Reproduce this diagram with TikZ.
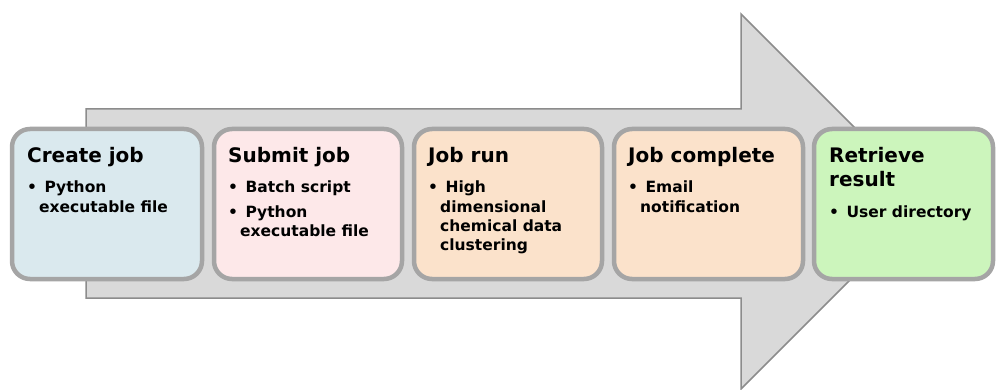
\documentclass[tikz,border=0pt]{standalone}
\usepackage{fontspec}
\setmainfont{DejaVu Sans}
\definecolor{arrowfill}{HTML}{D9D9D9}
\definecolor{arrowline}{HTML}{8C8C8C}
\definecolor{boxline}{HTML}{A5A5A5}
\definecolor{cblue}{HTML}{DAE9EE}
\definecolor{cpink}{HTML}{FDE8E9}
\definecolor{cpeach}{HTML}{FBE2CB}
\definecolor{cgreen}{HTML}{CCF5BC}
\newcommand{\itm}[1]{\hangindent=12pt\hangafter=1\makebox[12pt][l]{\textbullet}#1\par}
\tikzset{
  stagebox/.style={draw=boxline, line width=4.5pt, rounded corners=18pt, minimum height=150pt, inner sep=0pt},
  ttl/.style={anchor=base west, inner sep=0pt, font=\bfseries\fontsize{20}{24}\selectfont},
  blist/.style={anchor=base west, inner sep=0pt, font=\bfseries\fontsize{15.5}{19.3}\selectfont}
}
\begin{document}
\begin{tikzpicture}[x=1pt,y=-1pt]
\useasboundingbox (0,0) rectangle (996,390);
\draw[fill=arrowfill, draw=arrowline, line width=1.5pt, line join=miter]
  (86,109) -- (741,109) -- (741,14) -- (928.5,201.5) -- (741,389) -- (741,298) -- (86,298) -- cycle;
\node[stagebox, fill=cblue, minimum width=190pt] (b1) at (107,204) {};
\node[stagebox, fill=cpink, minimum width=188pt] (b2) at (308,204) {};
\node[stagebox, fill=cpeach, minimum width=188pt] (b3) at (508,204) {};
\node[stagebox, fill=cpeach, minimum width=189pt] (b4) at (708.5,204) {};
\node[stagebox, fill=cgreen, minimum width=179pt] (b5) at (903.5,204) {};
\node[ttl] (t1) at (27,163) {Create job};
\node[blist] (l1) at (27,193) {\parbox[t]{170pt}{\itm{\ Python\\executable file}}};
\node[ttl] (t2) at (228,163) {Submit job};
\node[blist] (l2) at (228,193) {\parbox[t]{170pt}{\itm{\ Batch script}\vspace{5pt}\itm{\ Python\\executable file}}};
\node[ttl] (t3) at (428,163) {Job run};
\node[blist] (l3) at (428,193) {\parbox[t]{170pt}{\itm{\ High\\dimensional\\chemical data\\clustering}}};
\node[ttl] (t4) at (628,163) {Job complete};
\node[blist] (l4) at (628,193) {\parbox[t]{170pt}{\itm{\ Email\\notification}}};
\node[ttl] (t5) at (829,163) {\parbox[t]{150pt}{Retrieve\\result}};
\node[blist] (l5) at (829,218) {\parbox[t]{170pt}{\itm{\ User directory}}};
\end{tikzpicture}
\end{document}
